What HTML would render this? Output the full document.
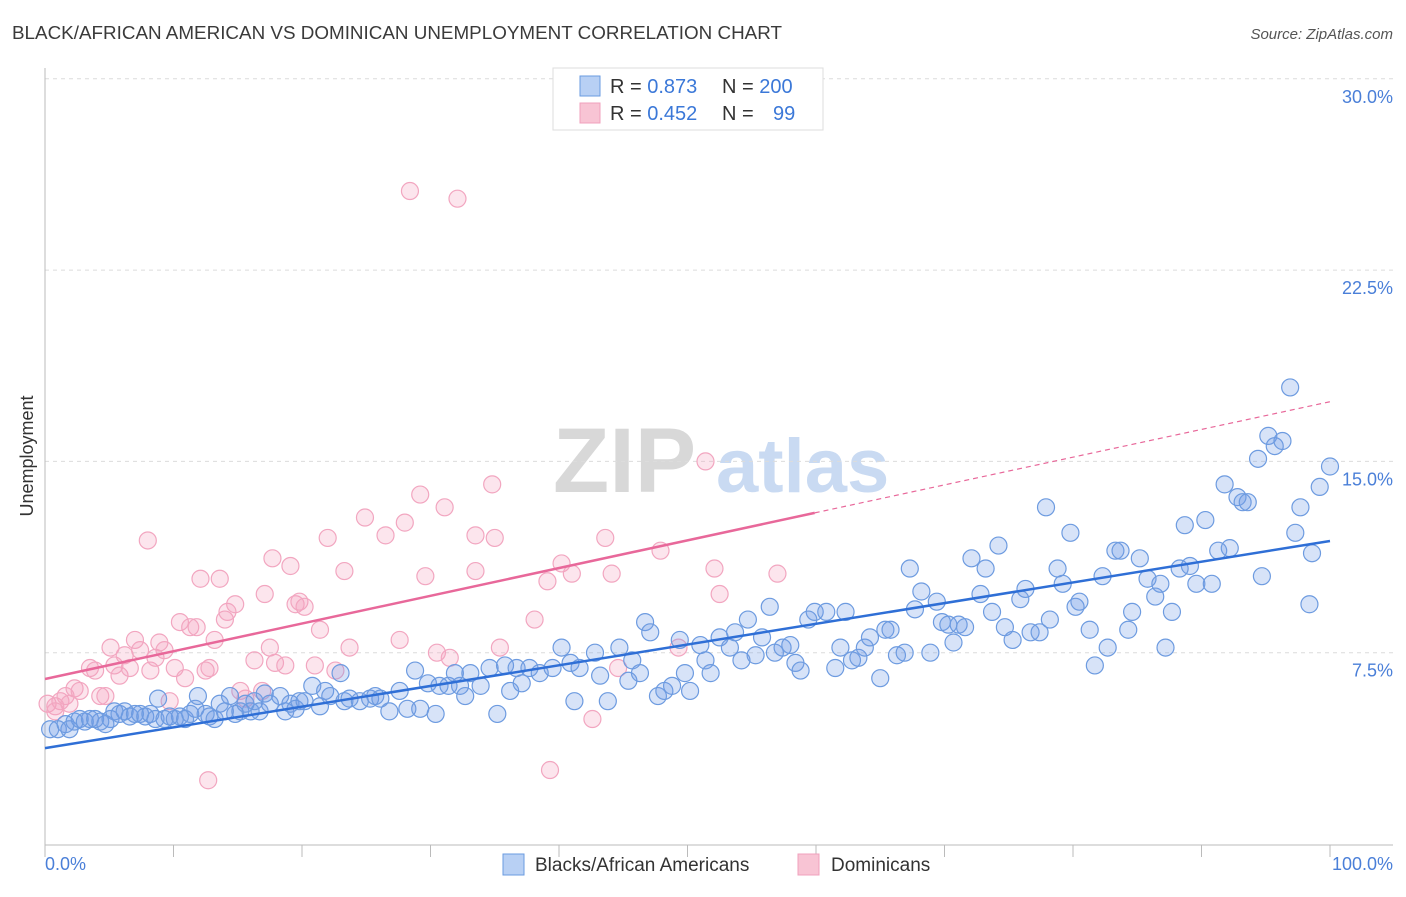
<!DOCTYPE html>
<html><head><meta charset="utf-8"><style>
body{margin:0;background:#fff;font-family:"Liberation Sans",sans-serif;}
svg text{font-family:"Liberation Sans",sans-serif;}
</style></head><body>
<svg id="chart" width="1406" height="892" xmlns="http://www.w3.org/2000/svg">
<text x="12" y="39" font-size="18" fill="#3a3a3a" textLength="770" lengthAdjust="spacingAndGlyphs">BLACK/AFRICAN AMERICAN VS DOMINICAN UNEMPLOYMENT CORRELATION CHART</text>
<text x="1393" y="39" font-size="15" fill="#555" text-anchor="end" font-style="italic">Source: ZipAtlas.com</text>
<g>
<text x="553" y="492" font-size="92" font-family="Liberation Serif" fill="#d8d8d8" font-weight="bold">ZIP</text>
<text x="716" y="492" font-size="76" fill="#c9daf2" font-weight="bold">atlas</text>
</g>
<g id="grid"></g>
<g id="axes"></g>
<g id="pink"></g>
<g id="blue"></g>
<g id="trends"></g>
<text transform="translate(33,456) rotate(-90)" font-size="18" fill="#333" text-anchor="middle">Unemployment</text>
<g>
<rect x="553" y="68" width="270" height="62" fill="#fff" stroke="#ddd"/>
<rect x="580" y="76" width="20" height="20" fill="#b8d0f4" stroke="#6a9be0"/>
<rect x="580" y="103" width="20" height="20" fill="#f8c4d4" stroke="#f0a0bc"/>
<text x="610" y="93" font-size="20" fill="#333">R = <tspan fill="#3b78d8">0.873</tspan></text>
<text x="722" y="93" font-size="20" fill="#333">N = <tspan fill="#3b78d8">200</tspan></text>
<text x="610" y="120" font-size="20" fill="#333">R = <tspan fill="#3b78d8">0.452</tspan></text>
<text x="722" y="120" font-size="20" fill="#333">N = <tspan fill="#3b78d8" x="773">99</tspan></text>
</g>
<g>
<rect x="503" y="854" width="21" height="21" fill="#b8d0f4" stroke="#6a9be0"/>
<text x="535" y="871" font-size="19" fill="#333">Blacks/African Americans</text>
<rect x="798" y="854" width="21" height="21" fill="#f8c4d4" stroke="#f0a0bc"/>
<text x="831" y="871" font-size="19" fill="#333">Dominicans</text>
</g>
</svg>
<script>
const yTicks=[7.5,15,22.5,30];
const yTickLabels=["7.5%","15.0%","22.5%","30.0%"];
const xTickLabels=["0.0%","100.0%"];
const blueX=[0.4,1.0,1.6,1.9,2.3,2.7,3.1,3.5,3.9,4.3,4.7,5.1,5.4,5.8,6.2,6.6,7.0,7.4,7.8,8.2,8.6,8.8,9.3,9.7,10.1,10.5,10.9,11.3,11.7,11.9,12.5,12.8,13.2,13.6,14.0,14.4,14.8,15.2,15.6,16.0,16.3,16.7,17.1,17.5,18.3,18.7,19.1,19.5,19.8,20.2,20.8,21.4,21.8,22.2,23.0,23.3,23.7,24.5,25.3,25.7,26.1,26.8,27.6,28.2,28.8,29.2,29.8,30.4,30.7,31.4,31.9,32.3,32.7,33.1,33.9,34.6,35.2,35.8,36.2,36.7,37.1,37.7,38.5,39.5,40.2,40.9,41.2,41.6,42.8,43.2,43.8,44.7,45.4,45.7,46.3,46.7,47.1,47.7,48.2,48.8,49.4,49.8,50.2,51.0,51.4,51.8,52.5,53.3,53.7,54.2,54.7,55.3,55.8,56.4,56.8,57.4,58.0,58.4,58.8,59.4,59.9,60.8,61.5,61.9,62.3,62.8,63.3,63.8,64.2,65.0,65.4,65.8,66.3,66.9,67.3,67.7,68.2,68.9,69.4,69.8,70.3,70.7,71.1,71.6,72.1,72.8,73.2,73.7,74.2,74.7,75.3,75.9,76.3,76.7,77.4,77.9,78.2,78.8,79.2,79.8,80.2,80.5,81.3,81.7,82.3,82.7,83.3,83.7,84.3,84.6,85.2,85.8,86.4,86.8,87.2,87.7,88.3,88.7,89.1,89.6,90.3,90.8,91.3,91.8,92.2,92.8,93.2,93.6,94.4,94.7,95.2,95.7,96.3,96.9,97.3,97.7,98.4,98.6,99.2,100];
const blueY=[4.5,4.5,4.7,4.5,4.8,4.9,4.8,4.9,4.9,4.8,4.7,4.9,5.2,5.1,5.2,5.0,5.1,5.1,5.0,5.1,4.9,5.7,4.9,5.0,4.9,5.0,4.9,5.1,5.3,5.8,5.1,5.0,4.9,5.5,5.2,5.8,5.1,5.2,5.5,5.2,5.6,5.2,5.9,5.5,5.8,5.2,5.5,5.3,5.6,5.6,6.2,5.4,6.0,5.8,6.7,5.6,5.7,5.6,5.7,5.8,5.7,5.2,6.0,5.3,6.8,5.3,6.3,5.1,6.2,6.2,6.7,6.2,5.8,6.7,6.2,6.9,5.1,7.0,6.0,6.9,6.3,6.9,6.7,6.9,7.7,7.1,5.6,6.9,7.5,6.6,5.6,7.7,6.4,7.2,6.7,8.7,8.3,5.8,6.0,6.2,8.0,6.7,6.0,7.8,7.2,6.7,8.1,7.7,8.3,7.2,8.8,7.4,8.1,9.3,7.5,7.7,7.8,7.1,6.8,8.8,9.1,9.1,6.9,7.7,9.1,7.2,7.3,7.7,8.1,6.5,8.4,8.4,7.4,7.5,10.8,9.2,9.9,7.5,9.5,8.7,8.6,7.9,8.6,8.5,11.2,9.8,10.8,9.1,11.7,8.5,8.0,9.6,10.0,8.3,8.3,13.2,8.8,10.8,10.2,12.2,9.3,9.5,8.4,7.0,10.5,7.7,11.5,11.5,8.4,9.1,11.2,10.4,9.7,10.2,7.7,9.1,10.8,12.5,10.9,10.2,12.7,10.2,11.5,14.1,11.6,13.6,13.4,13.4,15.1,10.5,16.0,15.6,15.8,17.9,12.2,13.2,9.4,11.4,14.0,14.8];
const pinkX=[0.2,0.8,1.2,1.6,1.9,2.3,2.7,3.5,3.9,4.3,4.7,5.1,5.4,5.8,6.2,6.6,7.0,7.4,8.0,8.2,8.6,8.9,9.3,9.7,10.1,10.5,10.9,11.3,11.8,12.1,12.5,12.8,12.7,13.2,13.6,14.0,14.2,14.8,15.2,15.6,16.3,16.9,17.1,17.5,17.7,17.9,18.7,19.1,19.5,19.8,20.2,21.0,21.4,22.0,22.6,23.3,23.7,24.9,26.5,28.0,27.6,28.4,29.2,29.6,30.5,31.1,31.5,32.1,33.5,33.5,34.8,35.0,35.4,38.1,39.3,39.1,40.2,41.0,42.6,43.6,44.1,44.6,47.9,49.3,51.4,52.1,52.5,57.0,0.8];
const pinkY=[5.5,5.4,5.6,5.8,5.5,6.1,6.0,6.9,6.8,5.8,5.8,7.7,7.0,6.6,7.4,6.9,8.0,7.6,11.9,6.8,7.3,7.9,7.6,5.6,6.9,8.7,6.5,8.5,8.5,10.4,6.8,6.9,2.5,8.0,10.4,8.8,9.1,9.4,6.0,5.7,7.2,6.0,9.8,7.7,11.2,7.1,7.0,10.9,9.4,9.5,9.3,7.0,8.4,12.0,6.8,10.7,7.7,12.8,12.1,12.6,8.0,25.6,13.7,10.5,7.5,13.2,7.3,25.3,12.1,10.7,14.1,12.0,7.7,8.8,2.9,10.3,11.0,10.6,4.9,12.0,10.6,6.9,11.5,7.7,15.0,10.8,9.8,10.6,5.2];
const blueTrend=[3.76,0.0812];
const pinkTrend=[6.47,0.1087];
const pinkSolidEnd=[59.9];
const NS="http://www.w3.org/2000/svg";
const X0=45,X1=1330,Y0=844,YPER=191.3/7.5;
const sx=v=>X0+(X1-X0)*v/100;
const sy=v=>Y0-v*YPER;
function mk(tag,attrs,parent){const e=document.createElementNS(NS,tag);for(const k in attrs)e.setAttribute(k,attrs[k]);parent.appendChild(e);return e;}
const grid=document.getElementById('grid');
yTicks.forEach((t,i)=>{
  const l=mk('line',{x1:45,x2:1393,y1:sy(t),y2:sy(t),stroke:'#dcdcdc','stroke-dasharray':'4,4'},grid);
  
  
  const tx=mk('text',{x:1393,y:sy(t)+24,'font-size':18,fill:'#4a7fd8','text-anchor':'end'},grid);
  tx.textContent=yTickLabels[i];
  
  
});
const axes=document.getElementById('axes');
mk('line',{x1:45,x2:45,y1:68,y2:845,stroke:'#bbb'},axes);
mk('line',{x1:45,x2:1393,y1:845,y2:845,stroke:'#bbb'},axes);
for(let i=0;i<=10;i++){const tk=mk('line',{x1:sx(i*10),x2:sx(i*10),y1:845,y2:857,stroke:'#bbb'},axes);
  
  }
const xl0=mk('text',{x:45,y:870,'font-size':18,fill:'#4a7fd8'},axes);xl0.textContent=xTickLabels[0];


const xl1=mk('text',{x:1393,y:870,'font-size':18,fill:'#4a7fd8','text-anchor':'end'},axes);xl1.textContent=xTickLabels[1];


function pts(xs,ys,g,fill,stroke,name){xs.forEach((x,i)=>{const c=mk('circle',{cx:sx(x),cy:sy(ys[i]),r:8.5,fill:fill,stroke:stroke,'stroke-width':1.2},g);
  
  });}
pts(pinkX,pinkY,document.getElementById('pink'),'rgba(244,160,190,0.28)','#f2a6c0','dominican-point');
pts(blueX,blueY,document.getElementById('blue'),'rgba(110,155,230,0.28)','#6d9be0','black-point');
const tr=document.getElementById('trends');
const bl=mk('line',{x1:sx(0),y1:sy(blueTrend[0]),x2:sx(100),y2:sy(blueTrend[0]+blueTrend[1]*100),stroke:'#2f6fd6','stroke-width':2.5},tr);


const pe=pinkSolidEnd[0];
const pl=mk('line',{x1:sx(0),y1:sy(pinkTrend[0]),x2:sx(pe),y2:sy(pinkTrend[0]+pinkTrend[1]*pe),stroke:'#e8689a','stroke-width':2.5},tr);


const pd=mk('line',{x1:sx(pe),y1:sy(pinkTrend[0]+pinkTrend[1]*pe),x2:sx(100),y2:sy(pinkTrend[0]+pinkTrend[1]*100),stroke:'#e8689a','stroke-width':1.2,'stroke-dasharray':'5,4'},tr);


</script>
</body></html>
